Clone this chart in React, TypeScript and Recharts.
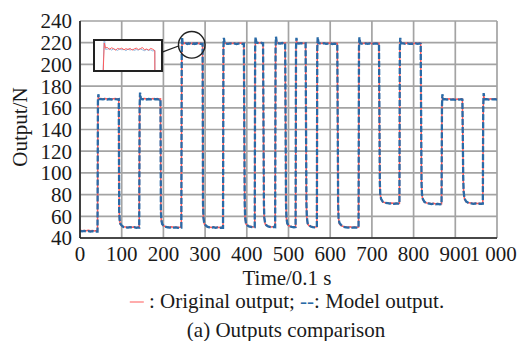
import {
  CartesianGrid,
  Line,
  LineChart,
  ReferenceDot,
  ReferenceLine,
  XAxis,
  YAxis,
} from "recharts";

// time axis (unit 0.1 s), grouped by pulse segment
const time = [
  0, 5, 10, 15, 20, 25, 30, 35, 40, 42,
  43, 44, 46, 50, 55, 60, 65, 70, 75, 80, 85, 90, 93,
  94, 95, 97, 100, 104, 110, 115, 120, 125, 130, 135, 140, 142,
  143, 144, 146, 150, 155, 160, 165, 170, 175, 180, 185, 190, 193,
  194, 195, 197, 200, 204, 210, 215, 220, 225, 230, 235, 240, 243,
  244, 245, 246,
  248, 250, 252, 254, 256, 258, 260, 262, 264, 266, 268, 270, 272, 274, 276, 278, 280, 282, 284, 286, 288, 290, 292, 294,
  295, 296, 298, 301, 305, 310, 315, 320, 325, 330, 335, 340, 343,
  344, 345, 347, 350, 355, 360, 365, 370, 375, 380, 385, 390, 393,
  395, 396, 398, 401, 405, 410, 415, 419,
  420, 421, 423, 426, 430, 435, 439,
  441, 442, 444, 447, 451, 455, 460, 465, 468,
  469, 470, 472, 475, 480, 485, 490, 492,
  494, 495, 497, 500, 504, 508, 513, 517,
  518, 519, 521, 525, 530, 535, 541,
  543, 544, 546, 549, 553, 558, 563, 568,
  569, 570, 572, 575, 580, 585, 590, 595, 600, 605, 610, 615, 617,
  619, 620, 622, 626, 632, 638, 643, 648, 653, 658, 663, 668,
  669, 670, 672, 675, 680, 685, 690, 695, 700, 705, 710, 715, 717,
  719, 720, 722, 726, 732, 738, 743, 748, 753, 758, 763, 766,
  767, 768, 770, 775, 780, 785, 790, 795, 800, 805, 810, 815, 817,
  819, 820, 822, 826, 832, 838, 843, 848, 853, 858, 863, 867,
  868, 869, 871, 875, 880, 885, 890, 895, 900, 905, 910, 915, 917,
  919, 920, 922, 926, 932, 938, 943, 948, 953, 958, 963, 966,
  967, 968, 970, 975, 980, 985, 990, 995, 1000,
];

const originalOutput = [
  47.2, 46.8, 47.0, 46.6, 47.1, 46.7, 46.9, 46.5, 46.8, 46.7,
  165.5, 169.5, 168.4, 168.6, 168.2, 168.5, 168.1, 168.4, 168.0, 168.3, 168.6, 168.2, 168.3,
  64, 56, 52.5, 51.2, 50.4, 50.1, 49.8, 50.3, 49.9, 50.2, 49.7, 50.0, 49.9,
  160, 170, 168.5, 168.3, 168.6, 168.1, 168.4, 168.0, 168.5, 168.2, 168.6, 168.1, 168.3,
  64, 56, 52.5, 51.4, 50.6, 50.2, 49.9, 50.3, 49.8, 50.1, 49.7, 50.0, 49.9,
  212, 221.5, 219.8,
  219.9, 219.2, 219.8, 219.5, 219.0, 219.6, 219.3, 219.7, 219.1, 219.5, 219.2, 219.6, 219.0, 219.4, 219.7, 219.2, 219.5, 219.9, 219.1, 219.4, 219.0, 219.6, 219.3, 218.8,
  70, 58, 53, 51.5, 50.6, 50.1, 49.8, 50.2, 49.7, 50.0, 49.6, 49.9, 49.8,
  215, 222, 219.6, 219.6, 219.2, 219.8, 219.3, 219.6, 219.1, 219.5, 219.7, 219.2, 219.4,
  70, 58, 53, 51.6, 50.8, 50.5, 50.1, 50.3,
  214, 223, 220.3, 220.1, 219.7, 220.2, 219.9,
  70, 58, 53, 51.5, 50.8, 50.6, 50.2, 50.5, 50.3,
  214, 222.5, 220, 219.8, 219.5, 220.0, 219.6, 219.8,
  70, 58, 53, 51.5, 50.8, 50.5, 50.2, 50.4,
  214, 222, 219.8, 219.5, 219.9, 219.3, 219.7,
  70, 58, 53, 51.5, 50.8, 50.4, 50.1, 50.3,
  214, 222.5, 219.8, 219.6, 219.3, 219.8, 219.2, 219.5, 219.7, 219.1, 219.5, 219.3, 219.4,
  70, 58, 53, 51.5, 50.5, 50.2, 49.9, 50.3, 49.8, 50.1, 49.9, 50.0,
  214, 222.5, 219.8, 219.5, 219.2, 219.7, 219.3, 219.6, 219.1, 219.4, 219.7, 219.2, 219.4,
  90, 80, 75.5, 73.2, 72.5, 72.4, 72.0, 72.3, 71.8, 72.1, 71.9, 72.0,
  214, 222, 219.8, 219.6, 219.2, 219.7, 219.3, 219.5, 219.1, 219.6, 219.3, 219.7, 219.4,
  90, 80, 75.5, 73.0, 72.2, 72.0, 71.6, 71.9, 71.4, 71.7, 71.3, 71.5,
  160, 170, 168.3, 168.2, 167.8, 168.3, 167.9, 168.1, 167.7, 168.2, 167.9, 168.3, 168.0,
  95, 82, 76, 73.3, 72.4, 72.2, 71.8, 72.1, 71.7, 72.0, 71.8, 71.9,
  160, 171, 168.4, 168.2, 167.9, 168.3, 168.0, 168.2, 168.0,
];

const modelOutput = [
  46.6, 46.2, 46.5, 46.0, 46.4, 45.9, 46.3, 45.8, 46.1, 46.0,
  166, 172.5, 168.0, 168.0, 167.8, 168.3, 167.6, 168.1, 167.7, 168.2, 167.9, 167.8, 168.0,
  65, 57, 53, 51.5, 50.2, 49.8, 49.5, 50.0, 49.4, 49.9, 49.3, 49.7, 49.6,
  161, 174, 168.2, 167.9, 168.2, 167.7, 168.1, 167.8, 168.3, 167.9, 168.0, 167.6, 168.0,
  65, 57, 53, 51.6, 50.4, 49.9, 49.6, 50.0, 49.5, 49.8, 49.4, 49.7, 49.6,
  213, 225, 219.3,
  219.3, 219.6, 219.0, 219.4, 219.2, 218.9, 219.5, 219.1, 219.3, 218.8, 219.4, 219.0, 219.3, 218.9, 219.2, 219.0, 219.4, 219.1, 218.8, 219.2, 218.9, 219.1, 218.7, 218.9,
  72, 59, 53.5, 51.8, 50.4, 49.8, 49.5, 49.9, 49.4, 49.7, 49.3, 49.6, 49.5,
  216, 224.5, 219.3, 219.2, 218.9, 219.4, 219.0, 219.3, 218.8, 219.2, 219.3, 218.9, 219.0,
  72, 59, 53.5, 51.8, 50.6, 50.2, 49.8, 50.0,
  215, 225, 220.0, 219.8, 219.4, 219.9, 219.6,
  72, 59, 53.5, 51.7, 50.6, 50.3, 49.9, 50.2, 50.0,
  215, 225.5, 219.7, 219.5, 219.2, 219.7, 219.3, 219.5,
  72, 59, 53.5, 51.7, 50.6, 50.2, 49.9, 50.1,
  215, 224.5, 219.5, 219.2, 219.6, 219.0, 219.4,
  72, 59, 53.5, 51.7, 50.6, 50.1, 49.8, 50.0,
  215, 225, 219.5, 219.3, 219.0, 219.5, 218.9, 219.2, 219.4, 218.8, 219.2, 219.0, 219.1,
  72, 59, 54, 52, 50.3, 49.9, 49.6, 50.0, 49.5, 49.8, 49.6, 49.7,
  215, 225, 219.5, 219.2, 218.9, 219.4, 219.0, 219.3, 218.8, 219.1, 219.4, 218.9, 219.1,
  91, 81, 76, 73.5, 72.3, 72.1, 71.7, 72.0, 71.5, 71.8, 71.6, 71.7,
  215, 224.5, 219.5, 219.3, 218.9, 219.4, 219.0, 219.2, 218.8, 219.3, 219.0, 219.4, 219.1,
  91, 81, 76, 73.3, 72.0, 71.7, 71.3, 71.6, 71.1, 71.4, 71.0, 71.2,
  161, 172.5, 168.0, 167.9, 167.5, 168.0, 167.6, 167.8, 167.4, 167.9, 167.6, 168.0, 167.7,
  96, 83, 76.5, 73.6, 72.2, 71.9, 71.5, 71.8, 71.4, 71.7, 71.5, 71.6,
  161, 173.5, 168.0, 167.9, 167.6, 168.0, 167.7, 167.9, 167.6,
];

const xTicks = [0, 100, 200, 300, 400, 500, 600, 700, 800, 900, 1000];
const yTicks = [40, 60, 80, 100, 120, 140, 160, 180, 200, 220, 240];

const data = time.map((t, i) => ({
  t,
  original: originalOutput[i],
  model: modelOutput[i],
}));

const FONT = "Liberation Serif, Times New Roman, serif";
const RED = "#ff5a5a";
const BLUE = "#2a6aa6";

function TimeTick({ x, y, payload }: any) {
  const v = payload.value as number;
  const label = v === 1000 ? "1 000" : String(v);
  return (
    <text
      x={v === 1000 ? x - 4 : x}
      y={y}
      dy="0.71em"
      textAnchor="middle"
      style={{ fontFamily: FONT, fontSize: 21 }}
      fill="#1a1a1a"
    >
      {label}
    </text>
  );
}

function ValueTick({ x, y, payload }: any) {
  return (
    <text
      x={x}
      y={y}
      dy="0.355em"
      textAnchor="end"
      style={{ fontFamily: FONT, fontSize: 21 }}
      fill="#1a1a1a"
    >
      {payload.value}
    </text>
  );
}

function Centered({
  cx,
  cy,
  children,
  rotate,
}: {
  cx: number;
  cy: number;
  children: React.ReactNode;
  rotate?: boolean;
}) {
  return (
    <div
      style={{
        position: "absolute",
        left: cx,
        top: cy,
        transform: `translate(-50%, -50%)${rotate ? " rotate(-90deg)" : ""}`,
        whiteSpace: "nowrap",
        fontFamily: FONT,
        fontSize: 21,
        lineHeight: "21px",
        color: "#1a1a1a",
      }}
    >
      {children}
    </div>
  );
}

export default function App() {
  return (
    <div
      style={{
        position: "absolute",
        left: 0,
        top: 0,
        width: 522,
        height: 341,
        background: "#fff",
      }}
    >
      <LineChart
        width={522}
        height={341}
        data={data}
        margin={{ top: 21, right: 25, left: 0, bottom: 73 }}
      >
        <CartesianGrid stroke="#a3a3a3" strokeWidth={1.7} />
        <XAxis
          dataKey="t"
          type="number"
          domain={[0, 1000]}
          ticks={xTicks}
          interval={0}
          height={30}
          tickLine={false}
          axisLine={{ stroke: "#222", strokeWidth: 1.6 }}
          tick={<TimeTick />}
        />
        <YAxis
          type="number"
          domain={[40, 240]}
          ticks={yTicks}
          interval={0}
          width={80}
          tickLine={false}
          axisLine={{ stroke: "#222", strokeWidth: 1.6 }}
          tick={<ValueTick />}
        />
        <Line
          type="linear"
          dataKey="original"
          stroke={RED}
          strokeWidth={1.5}
          dot={false}
          isAnimationActive={false}
        />
        <Line
          type="linear"
          dataKey="model"
          stroke={BLUE}
          strokeWidth={2.3}
          strokeDasharray="6 2"
          dot={false}
          isAnimationActive={false}
        />
        <ReferenceDot
          x={268}
          y={218}
          r={13.3}
          fill="none"
          stroke="#222"
          strokeWidth={1.4}
          ifOverflow="visible"
        />
        <ReferenceLine
          segment={[
            { x: 198.5, y: 211.6 },
            { x: 238, y: 217.2 },
          ]}
          stroke="#222"
          strokeWidth={1.3}
          ifOverflow="visible"
        />
      </LineChart>

      {/* zoomed inset of the first 220 N plateau */}
      <div
        style={{
          position: "absolute",
          left: 93,
          top: 39,
          width: 70,
          height: 33,
          border: "2px solid #222",
          boxSizing: "border-box",
          background: "#fff",
          overflow: "hidden",
        }}
      >
        <LineChart
          width={66}
          height={29}
          data={data}
          margin={{ top: 0, right: 0, left: 0, bottom: 0 }}
        >
          <XAxis
            dataKey="t"
            type="number"
            domain={[236, 300]}
            allowDataOverflow
            hide
          />
          <YAxis type="number" domain={[212, 222.2]} allowDataOverflow hide />
          <Line
            type="linear"
            dataKey="model"
            stroke="#8db8e0"
            strokeWidth={1}
            dot={false}
            isAnimationActive={false}
          />
          <Line
            type="linear"
            dataKey="original"
            stroke={RED}
            strokeWidth={1}
            dot={false}
            isAnimationActive={false}
          />
        </LineChart>
      </div>

      <Centered cx={20} cy={127} rotate>
        Output/N
      </Centered>
      <Centered cx={287} cy={277.5}>
        Time/0.1 s
      </Centered>
      <Centered cx={287} cy={300.5}>
        <span
          style={{
            display: "inline-block",
            width: 14,
            borderTop: `1.6px solid ${RED}`,
            verticalAlign: "middle",
          }}
        />{" "}
        : Original output; <span style={{ color: BLUE }}>--</span>: Model
        output.
      </Centered>
      <Centered cx={286} cy={329.5}>
        (a) Outputs comparison
      </Centered>
    </div>
  );
}
